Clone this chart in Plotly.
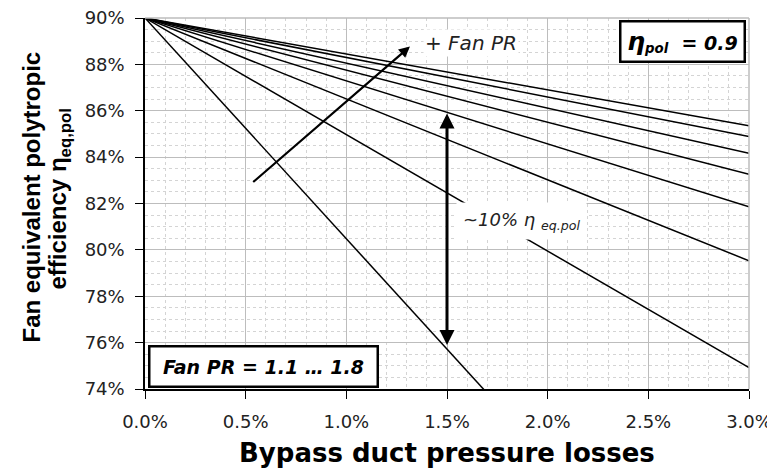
import plotly.graph_objects as go

# Bypass duct pressure losses [%]
losses = [0.0, 0.5, 1.0, 1.5, 2.0, 2.5, 3.0]
fan_pr = ["1.1", "1.2", "1.3", "1.4", "1.5", "1.6", "1.7", "1.8"]
# Fan equivalent polytropic efficiency [%] per fan pressure ratio
eta_pr_1_1 = [90.0, 85.24, 80.48, 75.72, 70.96, 66.20, 61.44]
eta_pr_1_2 = [90.0, 87.49, 84.97, 82.46, 79.95, 77.43, 74.92]
eta_pr_1_3 = [90.0, 88.26, 86.51, 84.77, 83.02, 81.28, 79.53]
eta_pr_1_4 = [90.0, 88.64, 87.29, 85.93, 84.57, 83.22, 81.86]
eta_pr_1_5 = [90.0, 88.88, 87.75, 86.63, 85.51, 84.38, 83.26]
eta_pr_1_6 = [90.0, 89.03, 88.06, 87.09, 86.11, 85.14, 84.17]
eta_pr_1_7 = [90.0, 89.15, 88.30, 87.44, 86.59, 85.74, 84.89]
eta_pr_1_8 = [90.0, 89.22, 88.45, 87.67, 86.90, 86.12, 85.35]
series = [eta_pr_1_1, eta_pr_1_2, eta_pr_1_3, eta_pr_1_4,
          eta_pr_1_5, eta_pr_1_6, eta_pr_1_7, eta_pr_1_8]

WIDE = "DejaVu Sans, Liberation Sans, Arial, sans-serif"
NARROW = "Liberation Sans, Arial, sans-serif"

fig = go.Figure()
for name, ys in zip(fan_pr, series):
    fig.add_trace(go.Scatter(x=losses, y=ys, mode="lines", name="Fan PR " + name,
                             line=dict(color="black", width=1.5), showlegend=False))

# page body has an 8px margin, so the figure is drawn 8px smaller and offset
fig.update_layout(
    width=767, height=462,
    margin=dict(l=137, r=26, t=10, b=81, autoexpand=False),
    paper_bgcolor="white", plot_bgcolor="white",
    font=dict(family=WIDE, color="black"),
)

fig.update_xaxes(
    range=[0, 3], tick0=0, dtick=0.5, tickformat=".1f", ticksuffix="%",
    automargin=False, ticklabeloverflow="allow",
    showgrid=True, gridcolor="#bdbdbd", gridwidth=1,
    showline=True, linecolor="black", linewidth=1.5,
    ticks="outside", ticklen=8, tickcolor="black",
    minor=dict(dtick=0.1, showgrid=True, gridcolor="#d4d4d4", griddash="3px,3px", ticks=""),
    zeroline=False, tickfont=dict(family=WIDE, size=18, color="#222"),
    ticklabelstandoff=8,
)
fig.update_yaxes(
    range=[74, 90], tick0=74, dtick=2, tickformat="d", ticksuffix="%",
    automargin=False, ticklabeloverflow="allow",
    showgrid=True, gridcolor="#bdbdbd", gridwidth=1,
    showline=True, linecolor="black", linewidth=1.5,
    ticks="outside", ticklen=8, tickcolor="black",
    minor=dict(dtick=0.5, showgrid=True, gridcolor="#d4d4d4", griddash="3px,3px", ticks=""),
    zeroline=False, tickfont=dict(family=WIDE, size=18, color="#222"),
    ticklabelstandoff=7,
)

# top and right frame lines
fig.add_shape(type="line", xref="paper", yref="paper", x0=0, x1=1, y0=1, y1=1,
              line=dict(color="#bdbdbd", width=1.5))
fig.add_shape(type="line", xref="paper", yref="paper", x0=1, x1=1, y0=0, y1=1,
              line=dict(color="#bdbdbd", width=1.5))

# axis titles
fig.add_annotation(xref="paper", yref="paper", x=0.5, y=0, yanchor="middle",
                   yshift=-64, showarrow=False,
                   text="<b>Bypass duct pressure losses</b>",
                   font=dict(family=WIDE, size=26, color="black"))
fig.add_annotation(xref="paper", yref="paper", x=0, y=0.5, xanchor="center",
                   yanchor="middle", xshift=-114, yshift=6, showarrow=False,
                   textangle=-90,
                   text="<b>Fan equivalent polytropic</b>",
                   font=dict(family=NARROW, size=24, color="black"))
fig.add_annotation(xref="paper", yref="paper", x=0, y=0.5, xanchor="center",
                   yanchor="middle", xshift=-86, yshift=4, showarrow=False,
                   textangle=-90,
                   text="<b>efficiency η<sub>eq,pol</sub></b>",
                   font=dict(family=NARROW, size=24, color="black"))

# increasing fan PR arrow
fig.add_annotation(x=1.316, y=88.77, ax=0.53, ay=82.87, xref="x", yref="y",
                   axref="x", ayref="y", text="", showarrow=True,
                   arrowhead=2, arrowsize=1, arrowwidth=2.2, arrowcolor="black")
fig.add_annotation(x=1.62, y=88.91, xref="x", yref="y", showarrow=False,
                   text="<i>+ Fan PR</i>", bgcolor="white",
                   font=dict(family=WIDE, size=20, color="#222"))

# double arrow ~10%
fig.add_annotation(x=1.5, y=75.9, ax=1.5, ay=85.95, xref="x", yref="y",
                   axref="x", ayref="y", text="", showarrow=True,
                   arrowside="end+start", arrowhead=2, startarrowhead=2,
                   arrowsize=1, startarrowsize=1, arrowwidth=3, arrowcolor="black")
fig.add_annotation(x=1.868, y=81.24, xref="x", yref="y", showarrow=False,
                   text="<i>~10% η <sub>eq.pol</sub></i>", bgcolor="white",
                   borderpad=6,
                   font=dict(family=WIDE, size=18, color="#222"))

# boxes
fig.add_annotation(x=2.67, y=89.0, xref="x", yref="y", showarrow=False,
                   text="<b><i><span style='font-size:25px'>η</span><sub>pol</sub>  = 0.9</i></b>",
                   bgcolor="white", bordercolor="black", borderwidth=2.5,
                   width=118, height=34, borderpad=2,
                   font=dict(family=WIDE, size=19, color="black"))
fig.add_annotation(x=0.59, y=74.99, xref="x", yref="y", showarrow=False,
                   text="<b><i>Fan PR = 1.1 … 1.8</i></b>",
                   bgcolor="white", bordercolor="black", borderwidth=2.5,
                   width=222, height=34, borderpad=2,
                   font=dict(family=WIDE, size=19, color="black"))

fig.write_html("out.html")
